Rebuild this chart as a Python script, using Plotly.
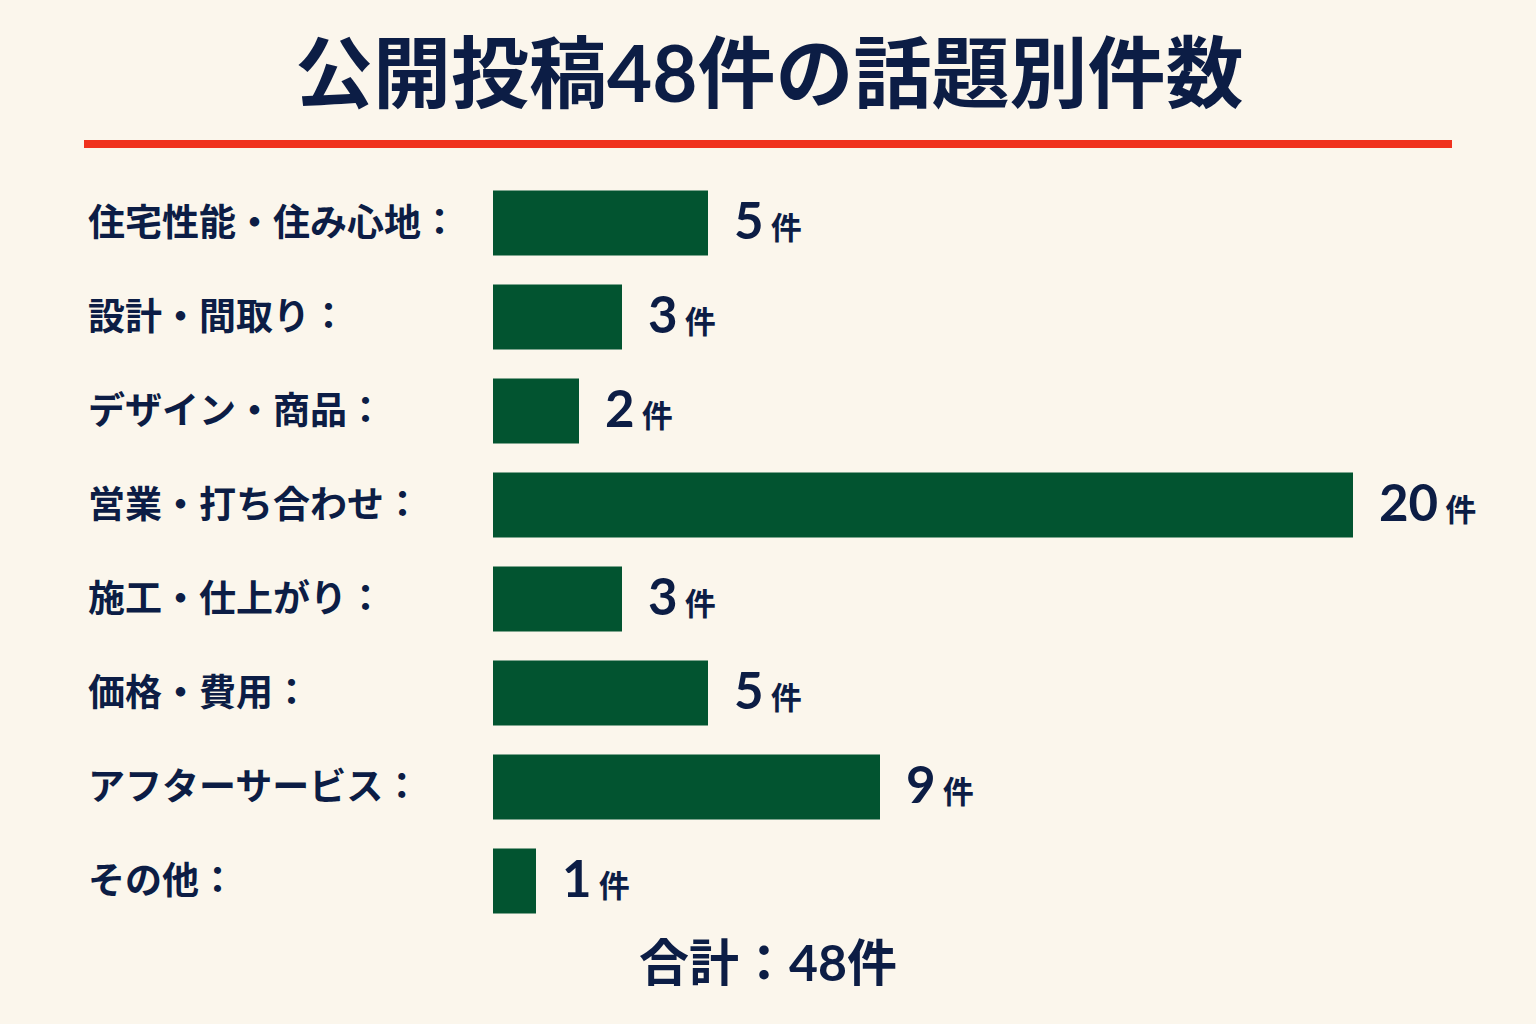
import plotly.graph_objects as go

categories = ["住宅性能・住み心地：", "設計・間取り：", "デザイン・商品：", "営業・打ち合わせ：",
              "施工・仕上がり：", "価格・費用：", "アフターサービス：", "その他："]
counts = [5, 3, 2, 20, 3, 5, 9, 1]
title_text = "公開投稿48件の話題別件数"
total_text = "合計：48件"
unit = "件"

W, H = 1536, 1024
NAVY = "#0c1d45"
GREEN = "#025430"
RED = "#f0321e"
BG = "#fbf6ec"
FONT = "Noto Sans CJK JP"
NUMFONT = "Lato, Noto Sans CJK JP"

fig = go.Figure()
fig.add_trace(go.Bar(
    x=counts, y=categories, orientation="h",
    marker=dict(color=GREEN, line=dict(width=0)),
    hoverinfo="skip",
))

annotations = []
# category labels
for c in categories:
    annotations.append(dict(
        x=86 / W, xref="paper", y=c, yref="y", xanchor="left", yanchor="middle",
        yshift=3,
        text=f"<b>{c}</b>", showarrow=False,
        font=dict(family=FONT, size=37, color=NAVY),
    ))
# value labels
for c, v in zip(categories, counts):
    annotations.append(dict(
        x=v, xref="x", y=c, yref="y", xanchor="left", yanchor="middle",
        xshift=24, yshift=4,
        text=f"<b><span style='font-size:51px'>{v}</span><span style='font-size:31px;font-family:Noto Sans CJK JP'> {unit}</span></b>",
        showarrow=False,
        font=dict(family=NUMFONT, size=51, color=NAVY),
    ))
# title
annotations.append(dict(
    x=769 / W, xref="paper", y=1 - 72 / H, yref="paper", xanchor="center", yanchor="middle",
    text=f"<b>{title_text}</b>", showarrow=False,
    font=dict(family=NUMFONT, size=78, color=NAVY),
))
# total
annotations.append(dict(
    x=768 / W, xref="paper", y=1 - 962 / H, yref="paper", xanchor="center", yanchor="middle",
    text=f"<b>{total_text}</b>", showarrow=False,
    font=dict(family=NUMFONT, size=50, color=NAVY),
))

fig.add_shape(type="rect", xref="paper", yref="paper",
              x0=84 / W, x1=1452 / W, y0=1 - 148 / H, y1=1 - 140 / H,
              fillcolor=RED, line=dict(width=0), layer="above")

fig.update_layout(
    width=W, height=H,
    margin=dict(l=0, r=0, t=0, b=0, pad=0),
    paper_bgcolor=BG, plot_bgcolor=BG,
    showlegend=False,
    bargap=0.31,
    annotations=annotations,
    xaxis=dict(domain=[493 / W, (493 + 43 * 24) / W], range=[0, 24],
               showticklabels=False, showgrid=False, zeroline=False, showline=False, fixedrange=True),
    yaxis=dict(domain=[1 - 928 / H, 1 - 176 / H], autorange="reversed",
               showticklabels=False, showgrid=False, zeroline=False, showline=False, fixedrange=True),
)

post = ("document.body.style.margin='0';document.body.style.padding='0';"
        "document.body.style.background='" + BG + "';"
        "document.documentElement.style.background='" + BG + "';"
        "document.body.style.overflow='hidden';")
fig.write_html("out.html", config={"displayModeBar": False}, post_script=post)
